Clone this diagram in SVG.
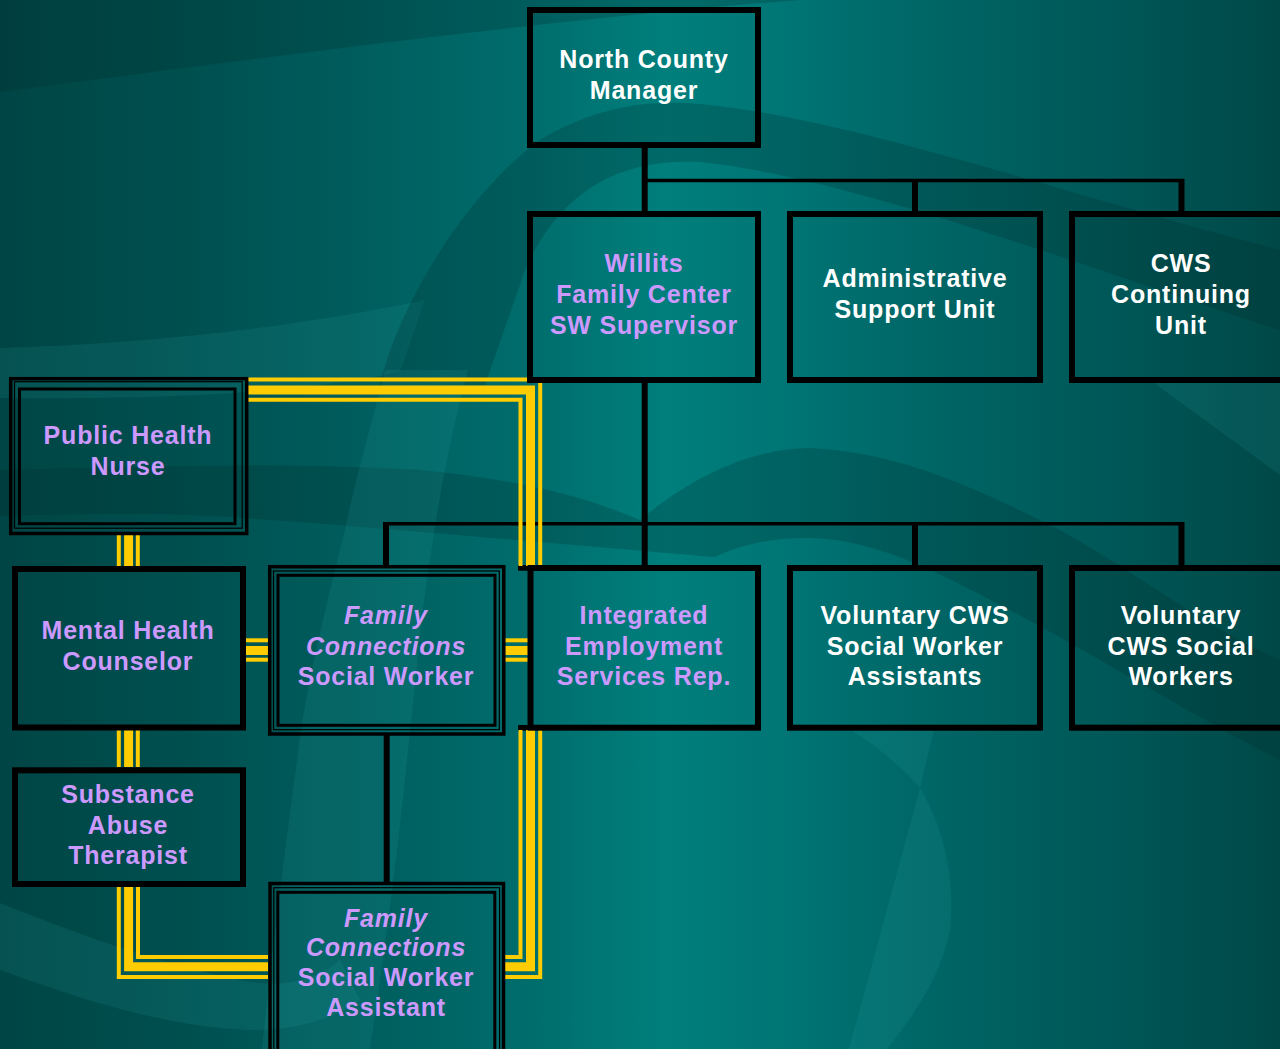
<svg xmlns="http://www.w3.org/2000/svg" width="1280" height="1049" viewBox="0 0 1280 1049">
<defs>
<linearGradient id="bg" x1="0" y1="0" x2="1280" y2="0" gradientUnits="userSpaceOnUse">
<stop offset="0" stop-color="#004545"/>
<stop offset="0.14" stop-color="#004F4F"/>
<stop offset="0.27" stop-color="#005C5C"/>
<stop offset="0.41" stop-color="#006C6C"/>
<stop offset="0.52" stop-color="#007F7C"/>
<stop offset="0.62" stop-color="#007474"/>
<stop offset="0.72" stop-color="#006666"/>
<stop offset="0.86" stop-color="#005858"/>
<stop offset="1" stop-color="#004848"/>
</linearGradient>
<style>
.dk{fill:#002a2a;opacity:0.25}
.lt{fill:#30b8b4;opacity:0.12}
.box{fill:none;stroke:#000;stroke-width:6}
.o{fill:none;stroke:#000;stroke-width:3.5}
.m{fill:none;stroke:#000;stroke-width:1.2}
.i{fill:none;stroke:#000;stroke-width:3}
.ln{fill:none;stroke:#000;stroke-width:6}
.hl{fill:none;stroke:#000;stroke-width:3.5}
.y1{fill:none;stroke:#FFCC00;stroke-width:4}
.y2{fill:none;stroke:#FFCC00;stroke-width:9}
text{font-family:"Liberation Sans",Arial,sans-serif;font-weight:bold;font-size:25px;letter-spacing:0.8px;text-anchor:middle}
.w{fill:#FFFFFF}
.p{fill:#CC99FF}
.it{font-style:italic}
</style>
</defs>
<g id="background">
<rect x="0" y="0" width="1280" height="1049" fill="url(#bg)"/>
<path class="dk" d="M0,0 H800 C560,18 260,58 0,92 Z"/>
<path class="lt" d="M0,348 C160,343 300,326 425,300 L400,372 C300,392 180,400 0,398 Z"/>
<path class="dk" d="M380,385 C400,300 470,190 540,140 C600,105 650,100 700,104 C850,118 1050,190 1280,250 L1280,330 C1050,255 850,178 700,162 C620,158 560,190 525,270 L485,385 Z"/>
<path class="dk" d="M0,470 C150,466 300,462 420,470 C520,480 580,495 640,520 C700,470 760,448 810,448 C900,452 980,490 1060,530 C1140,575 1210,630 1280,660 L1280,760 C1180,710 1040,620 920,565 C870,545 840,538 804,538 C770,538 740,545 715,557 C560,545 420,530 230,517 C150,512 80,514 0,516 Z"/>
<path class="lt" d="M1150,380 L1280,380 L1280,475 Z"/>
<path class="lt" d="M385,370 C370,430 355,480 345,530 C325,610 305,690 297,760 C285,850 272,950 262,1049 L370,1049 C385,950 398,850 407,760 C415,690 420,620 430,560 C440,490 452,430 468,370 Z"/>
<path class="lt" d="M851,730 L934,730 L920,788 C900,765 875,745 851,730 Z"/>
<path class="lt" d="M920,788 C945,830 955,880 950,930 C940,980 910,1020 887,1049 L849,1049 Z"/>
<path class="lt" d="M0,903 C80,935 180,972 260,983 C290,986 320,978 340,960 L360,1000 C330,1022 290,1030 250,1030 C170,1027 90,1003 0,970 Z"/>
</g>
<g id="connectors">
<path class="ln" d="M644.7,145 V214"/>
<path class="hl" d="M643,180.5 H1184"/>
<path class="ln" d="M915,179 V214"/>
<path class="ln" d="M1181.5,179 V214"/>
<path class="ln" d="M644.7,380 V568"/>
<path class="hl" d="M383,523.8 H1184"/>
<path class="ln" d="M386,522 V568"/>
<path class="ln" d="M915,522 V568"/>
<path class="ln" d="M1181.5,522 V568"/>
<path class="ln" d="M386.7,734 V884"/>
<rect x="518" y="565" width="12" height="5.7" fill="#000"/>
<rect x="518" y="725" width="12" height="5.7" fill="#000"/>
<g id="yellow-phn-integrated">
<path class="y1" d="M247,379.5 H540.2 V566"/>
<path class="y2" d="M247,390 H530.5 V566"/>
<path class="y1" d="M247,399.7 H520.5 V566"/>
</g>
<g id="yellow-integrated-fcswa">
<path class="y1" d="M520.5,730 V957 H504"/>
<path class="y2" d="M530.5,730 V966.7 H504"/>
<path class="y1" d="M540.2,730 V977 H504"/>
</g>
<g id="yellow-sat-fcswa">
<path class="y1" d="M118.8,887 V977 H268"/>
<path class="y2" d="M128.6,887 V966.8 H268"/>
<path class="y1" d="M138,887 V957 H268"/>
</g>
<g id="yellow-phn-mh">
<path class="y1" d="M118.8,535 V567"/>
<path class="y2" d="M128.6,535 V567"/>
<path class="y1" d="M137.8,535 V567"/>
</g>
<g id="yellow-mh-sat">
<path class="y1" d="M118.8,730 V767"/>
<path class="y2" d="M128.6,730 V767"/>
<path class="y1" d="M137.8,730 V767"/>
</g>
<g id="yellow-mh-fcsw">
<path class="y1" d="M245,640.3 H268"/>
<path class="y2" d="M245,650.5 H268"/>
<path class="y1" d="M245,659.7 H268"/>
</g>
<g id="yellow-fcsw-integrated">
<path class="y1" d="M504,640.3 H528"/>
<path class="y2" d="M504,650.5 H528"/>
<path class="y1" d="M504,659.7 H528"/>
</g>
</g>
<g id="node-manager">
<rect class="box" x="530" y="10" width="228" height="135"/>
<text class="w" x="644" y="67.5">North County</text>
<text class="w" x="644" y="98.5">Manager</text>
</g>
<g id="node-willits">
<rect class="box" x="530" y="214" width="228" height="166"/>
<text class="p" x="644" y="272">Willits</text>
<text class="p" x="644" y="303">Family Center</text>
<text class="p" x="644" y="334">SW Supervisor</text>
</g>
<g id="node-admin">
<rect class="box" x="790" y="214" width="250" height="166"/>
<text class="w" x="915" y="287">Administrative</text>
<text class="w" x="915" y="318">Support Unit</text>
</g>
<g id="node-cws-continuing">
<rect class="box" x="1072" y="214" width="260" height="166"/>
<text class="w" x="1181" y="272">CWS</text>
<text class="w" x="1181" y="303">Continuing</text>
<text class="w" x="1181" y="334">Unit</text>
</g>
<g id="node-phn">
<rect class="o" x="10.7" y="378.7" width="236" height="154.8"/>
<rect class="m" x="14.5" y="381.7" width="227.7" height="146.5"/>
<rect class="i" x="19.5" y="389" width="215.5" height="134.7"/>
<text class="p" x="128" y="444">Public Health</text>
<text class="p" x="128" y="475">Nurse</text>
</g>
<g id="node-mh">
<rect class="box" x="15" y="569" width="228" height="158.5"/>
<text class="p" x="128" y="639">Mental Health</text>
<text class="p" x="128" y="669.5">Counselor</text>
</g>
<g id="node-fcsw">
<rect class="o" x="269.7" y="566.7" width="234.1" height="167.3"/>
<rect class="m" x="273.5" y="571" width="225.8" height="158.7"/>
<rect class="i" x="278" y="575.3" width="217" height="150"/>
<text class="p it" x="386" y="624">Family</text>
<text class="p it" x="386" y="654.5">Connections</text>
<text class="p" x="386" y="685">Social Worker</text>
</g>
<g id="node-integrated">
<rect class="box" x="530.5" y="568" width="227.5" height="159.7"/>
<text class="p" x="644" y="624">Integrated</text>
<text class="p" x="644" y="654.5">Employment</text>
<text class="p" x="644" y="685">Services Rep.</text>
</g>
<g id="node-vol-assistants">
<rect class="box" x="790" y="568" width="250" height="159.7"/>
<text class="w" x="915" y="624">Voluntary CWS</text>
<text class="w" x="915" y="654.5">Social Worker</text>
<text class="w" x="915" y="685">Assistants</text>
</g>
<g id="node-vol-workers">
<rect class="box" x="1072" y="568" width="260" height="159.7"/>
<text class="w" x="1181" y="624">Voluntary</text>
<text class="w" x="1181" y="654.5">CWS Social</text>
<text class="w" x="1181" y="685">Workers</text>
</g>
<g id="node-sat">
<rect class="box" x="15" y="770.3" width="228" height="113.7"/>
<text class="p" x="128" y="803.3">Substance</text>
<text class="p" x="128" y="833.7">Abuse</text>
<text class="p" x="128" y="864">Therapist</text>
</g>
<g id="node-fcswa">
<rect class="o" x="270" y="883.5" width="233.5" height="180"/>
<rect class="m" x="273.8" y="887.7" width="225.8" height="175"/>
<rect class="i" x="277.8" y="892.3" width="217" height="165"/>
<text class="p it" x="386" y="926.5">Family</text>
<text class="p it" x="386" y="956">Connections</text>
<text class="p" x="386" y="986">Social Worker</text>
<text class="p" x="386" y="1016">Assistant</text>
</g>
</svg>
